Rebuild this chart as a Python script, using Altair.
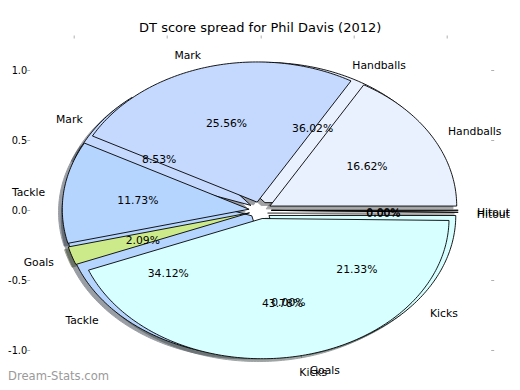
import math
import altair as alt
import pandas as pd

title_text = "DT score spread for Phil Davis (2012)"
watermark_text = "Dream-Stats.com"
categories = ["Handballs", "Mark", "Tackle", "Goals", "Kicks", "Hitout"]
front_pct = [16.62, 25.56, 11.73, 2.09, 43.78, 0.00]
back_pct = [36.02, 8.53, 34.12, 0.00, 21.33, 0.00]
face_colors = ["#eaf1fe", "#c4d9fd", "#b5d5ff", "#cdea8b", "#d8ffff", "#e8e8e8"]
tick_values = [-1.0, -0.5, 0.0, 0.5, 1.0]

EXPLODE = 0.06
SHADOW = 0.02
LABEL_DIST = 1.1
PCT_DIST = 0.6
X_DOMAIN = [-1.25, 1.25]
Y_DOMAIN = [-1.2036, 1.25]
FONT = "DejaVu Sans"
W, H = 467, 344
TEXT_DY = 2.5


def shade(h):
    r, g, b = int(h[1:3], 16), int(h[3:5], 16), int(h[5:7], 16)
    return "#%02x%02x%02x" % (int(0.3 * r), int(0.3 * g), int(0.3 * b))


wedge_rows, label_rows, pct_rows = [], [], []
for pie_order, (pie_name, values) in enumerate([("back", back_pct), ("front", front_pct)]):
    start = 0.0
    for i, (cat, v, col) in enumerate(zip(categories, values, face_colors)):
        frac = v / 100.0
        t1 = 360.0 * start
        t2 = 360.0 * (start + frac)
        tm = math.radians(0.5 * (t1 + t2))
        cx = EXPLODE * math.cos(tm)
        cy = EXPLODE * math.sin(tm)
        n = max(2, int(math.ceil(abs(t2 - t1))) + 1)
        pts = [(cx, cy)]
        for k in range(n):
            a = math.radians(t1 + (t2 - t1) * k / (n - 1))
            pts.append((cx + math.cos(a), cy + math.sin(a)))
        pts.append((cx, cy))
        for j, (px, py) in enumerate(pts):
            wedge_rows.append({
                "pie": pie_order, "wedge": f"{pie_name}-{cat}", "idx": j,
                "x": px, "y": py, "sx": px - SHADOW, "sy": py - SHADOW,
                "fill": col, "shadow": shade(col),
            })
        lx = cx + LABEL_DIST * math.cos(tm)
        ly = cy + LABEL_DIST * math.sin(tm)
        label_rows.append({"x": lx, "y": ly, "text": cat,
                           "side": "left" if lx > 0 else "right"})
        pct_rows.append({"x": cx + PCT_DIST * math.cos(tm),
                         "y": cy + PCT_DIST * math.sin(tm),
                         "text": f"{v:.2f}%"})
        start += frac

wedges = pd.DataFrame(wedge_rows)
labels = pd.DataFrame(label_rows)
pcts = pd.DataFrame(pct_rows)

xs = alt.Scale(domain=X_DOMAIN, nice=False, zero=False)
ys = alt.Scale(domain=Y_DOMAIN, nice=False, zero=False)

axis_left = alt.Axis(orient="left", values=tick_values, format=".1f",
                     labelExpr="replace(datum.label, '\u2212', '-')",
                     offset=-3, labelPadding=0, title=None)
axis_top = alt.Axis(orient="top", values=tick_values, labels=False,
                    offset=-3, title=None)
axis_right = alt.Axis(orient="right", values=tick_values, labels=False,
                      offset=-3, title=None)

base = alt.Chart(wedges)

shadow = base.mark_line(strokeWidth=1, opacity=0.5).encode(
    x=alt.X("sx:Q", scale=xs, axis=axis_top),
    y=alt.Y("sy:Q", scale=ys, axis=axis_left),
    order="idx:Q",
    detail="wedge:N",
    fill=alt.Fill("shadow:N", scale=None),
    stroke=alt.Stroke("shadow:N", scale=None),
)


def pie_layer(k):
    return base.transform_filter(f"datum.pie == {k}").mark_line(
        stroke="black", strokeWidth=0.9
    ).encode(
        x=alt.X("x:Q", scale=xs),
        y=alt.Y("y:Q", scale=ys),
        order="idx:Q",
        detail="wedge:N",
        fill=alt.Fill("fill:N", scale=None),
    )


label_base = alt.Chart(labels)
labels_left = label_base.transform_filter("datum.side == 'left'").mark_text(
    align="left", baseline="middle", font=FONT, fontSize=10.8, color="black",
    dy=TEXT_DY,
).encode(x=alt.X("x:Q", scale=xs), y=alt.Y("y:Q", scale=ys), text="text:N")
labels_right = label_base.transform_filter("datum.side == 'right'").mark_text(
    align="right", baseline="middle", font=FONT, fontSize=10.8, color="black",
    dy=TEXT_DY,
).encode(x=alt.X("x:Q", scale=xs), y=alt.Y("y:Q", scale=ys), text="text:N")

pct_layer = alt.Chart(pcts).mark_text(
    align="center", baseline="middle", font=FONT, fontSize=10.8, color="black",
    dy=TEXT_DY,
).encode(x=alt.X("x:Q", scale=xs), y=alt.Y("y:Q", scale=ys), text="text:N")

watermark = alt.Chart(pd.DataFrame({"text": [watermark_text]})).mark_text(
    align="left", baseline="middle", font=FONT, fontSize=11.6, color="#9a9a9a"
).encode(x=alt.value(-18.7), y=alt.value(342), text="text:N")

title = alt.Chart(pd.DataFrame({"text": [title_text]})).mark_text(
    align="center", baseline="middle", font=FONT, fontSize=13, color="black",
    dy=3,
).encode(x=alt.value(W / 2), y=alt.value(-10), text="text:N")

main = alt.layer(shadow, pie_layer(0), pie_layer(1), labels_left, labels_right,
                 pct_layer, watermark, title)

# a second, identical scale pair only to draw the right-hand tick marks
right_ticks = alt.Chart(pcts).mark_text(opacity=0).encode(
    x=alt.X("x:Q", scale=xs, axis=None),
    y=alt.Y("y:Q", scale=ys, axis=axis_right),
    text="text:N",
)

chart = alt.layer(main, right_ticks).resolve_scale(
    x="independent", y="independent"
).properties(
    width=W,
    height=H,
    padding={"left": 18.7, "top": 27, "right": 18, "bottom": 3},
    autosize=alt.AutoSizeParams(type="none"),
).configure_axis(
    labelFont=FONT, labelFontSize=9.8, labelColor="black",
    tickColor="#b0b0b0", tickSize=3, tickWidth=1, domain=False, grid=False,
).configure_view(stroke=None)

chart.save("out.html", embed_options={"renderer": "svg", "actions": False})
